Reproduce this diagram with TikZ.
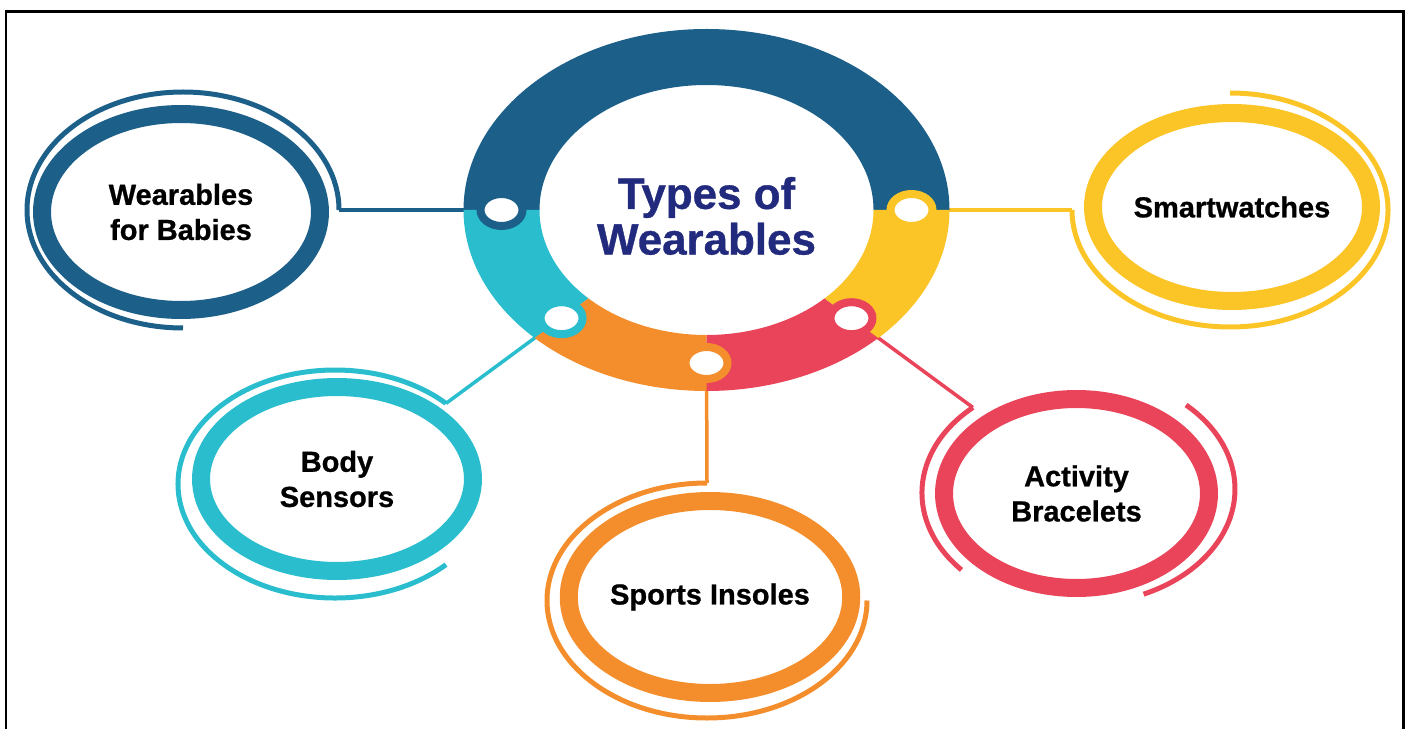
\documentclass[tikz,border=0pt]{standalone}
\usepackage{fontspec}
\setmainfont{Liberation Sans}
\newfontfamily\heavyfont{Liberation Sans Bold}[FakeBold=0.8]
\usepackage{tikz}
\usetikzlibrary{shapes.geometric,positioning}

\pgfdeclarelayer{back}
\pgfsetlayers{back,main}

\definecolor{deepblue}{RGB}{28,96,138}
\definecolor{aqua}{RGB}{41,189,206}
\definecolor{tangerine}{RGB}{244,142,44}
\definecolor{rose}{RGB}{233,68,89}
\definecolor{gold}{RGB}{251,197,40}
\definecolor{navy}{RGB}{33,42,125}

% one coloured piece of the hub ring, between two angles
\newcommand\hubseg[3]{%
  \fill[#1] (#2:243 and 181) arc[start angle=#2, end angle=#3, x radius=243, y radius=181]
    -- (#3:167 and 125) arc[start angle=#3, end angle=#2, x radius=167, y radius=125] -- cycle;}

\begin{document}
\begin{tikzpicture}[x=0.02cm,y=0.02cm,
  item/.style={ellipse,line width=0.36cm,inner sep=0pt,align=center,
    font=\heavyfont\fontsize{16.5}{20}\selectfont},
  rim/.style={line width=0.1cm},
  link/.style={line width=0.07cm},
  hole/.style={ellipse,fill=white,line width=0.16cm,inner sep=0pt,
    minimum width=0.84cm,minimum height=0.64cm},
  frame/.style={line width=0.06cm}
]

\useasboundingbox (0,0) rectangle (1409,-729);
\draw[frame] (6,-729) -- (6,-12) -- (1403,-12) -- (1403,-729);

% hub ring
\coordinate (hub) at (706.5,-210);
\begin{scope}[shift={(hub)}]
  \hubseg{deepblue}{0}{180}
  \hubseg{aqua}{180}{225}
  \hubseg{tangerine}{225}{270}
  \hubseg{rose}{270}{315}
  \hubseg{gold}{315}{360}

  \node[hole,draw=deepblue]  (hbabies)   at (180:205 and 153) {};
  \node[hole,draw=aqua]      (hbody)     at (225:205 and 153) {};
  \node[hole,draw=tangerine] (hsports)   at (270:205 and 153) {};
  \node[hole,draw=rose]      (hactivity) at (315:205 and 153) {};
  \node[hole,draw=gold]      (hsmart)    at (0:205 and 153) {};
\end{scope}

\node[text=navy,align=center,font=\heavyfont\fontsize{25}{26}\selectfont] (title) at (706.5,-216) {Types of\\Wearables};

% the five kinds
\node[item,draw=deepblue,minimum width=5.56cm,minimum height=3.92cm] (babies) at (181,-212) {Wearables\\for Babies};
\node[item,draw=gold,minimum width=5.48cm,minimum height=3.76cm] (smart) at (1232,-207) {Smartwatches};
\node[item,draw=aqua,minimum width=5.44cm,minimum height=3.68cm] (body) at (337,-479) {Body\\Sensors};
\node[item,draw=tangerine,minimum width=5.36cm,minimum height=3.84cm] (sports) at (710,-597) {Sports Insoles};
\node[item,draw=rose,minimum width=5.3cm,minimum height=3.78cm] (activity) at (1076.5,-493.5) {Activity\\Bracelets};

% thin outer rims
\coordinate (babiesin) at (339,-210);
\coordinate (smartin) at (1072,-210);
\coordinate (bodyin) at (446,-403.4);
\coordinate (sportsin) at (707,-483);
\coordinate (activityin) at (972.9,-407.5);
\coordinate (activityr) at (1186,-405);

\draw[rim,deepblue] (babiesin) arc[start angle=0, end angle=270, x radius=156, y radius=118];
\draw[rim,gold] (smartin) arc[start angle=180, end angle=450, x radius=158, y radius=117];
\draw[rim,aqua] (bodyin) arc[start angle=45, end angle=315, x radius=157, y radius=114];
\draw[rim,tangerine] (sportsin) arc[start angle=90, end angle=360, x radius=160, y radius=117.5];
\draw[rim,rose] (activityin) arc[start angle=132, end angle=222, x radius=154, y radius=115];
\draw[rim,rose] (activityr) arc[start angle=47, end angle=-66, x radius=154, y radius=115];

% links run under the hub
\begin{pgfonlayer}{back}
  \draw[link,deepblue] (hbabies.center) -- (babiesin);
  \draw[link,gold] (hsmart.center) -- (smartin);
  \draw[link,aqua] (hbody.center) -- (bodyin);
  \draw[link,tangerine] (hsports.center) -- (sportsin);
  \draw[link,rose] (hactivity.center) -- (activityin);
\end{pgfonlayer}

\end{tikzpicture}
\end{document}
